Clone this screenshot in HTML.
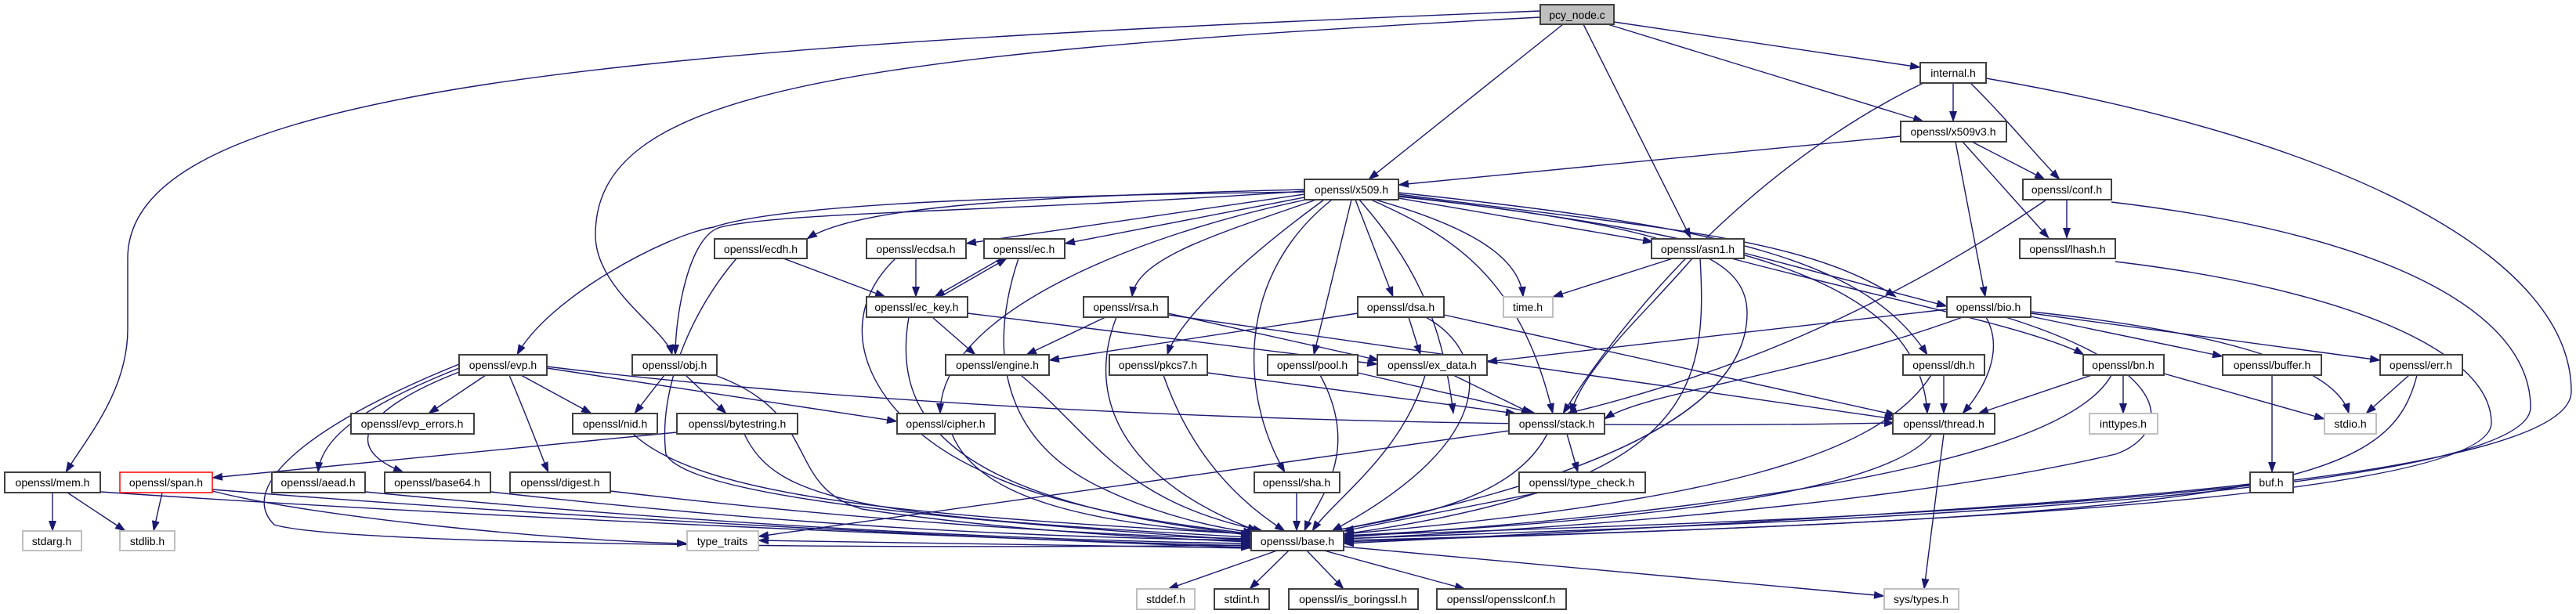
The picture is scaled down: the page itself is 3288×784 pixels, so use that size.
<!DOCTYPE html>
<html><head><meta charset="utf-8"><style>
html,body{margin:0;padding:0;background:#fff;}
svg{display:block;}
text{font-family:"Liberation Sans","DejaVu Sans",sans-serif;font-size:14px;fill:#000;}
.n rect{fill:#fff;stroke:#404040;stroke-width:2;}
.g rect{fill:#fff;stroke:#bfbfbf;stroke-width:2;}
.r rect{fill:#fff;stroke:#ff0000;stroke-width:1.5;}
.e path{fill:none;stroke:#191970;stroke-width:1.4;marker-end:url(#a);}
</style></head><body>
<svg width="3288" height="784" viewBox="0 0 3288 784" xmlns="http://www.w3.org/2000/svg">
<defs><marker id="a" markerWidth="14" markerHeight="10" refX="13" refY="5" orient="auto" markerUnits="userSpaceOnUse"><path d="M0,0L14,5L0,10z" fill="#191970"/></marker></defs>
<g class="e">
<!-- pcy_node.c -->
<path d="M1966,14 C800,60 163,110 163,330 L163,420 C163,500 110,560 84,603"/>
<path d="M1966,22 C1050,70 760,120 760,300 C760,370 850,420 858,453"/>
<path d="M1995,31 L1747,229"/>
<path d="M2021,31 L2158,304"/>
<path d="M2060,28 L2451,86"/>
<path d="M2052,31 L2455,155"/>
<!-- internal.h -->
<path d="M2493,106 L2493,155"/>
<path d="M2515,106 C2560,150 2600,200 2629,229"/>
<path d="M2455,106 C2300,180 2120,330 1995,528"/>
<path d="M2535,100 C3000,180 3282,330 3282,500 C3282,650 2000,672 1715,684"/>
<!-- x509v3.h -->
<path d="M2426,174 L1785,236"/>
<path d="M2517,181 L2610,229"/>
<path d="M2505,181 L2615,304"/>
<path d="M2496,181 L2534,379"/>
<!-- conf.h -->
<path d="M2638,255 L2638,304"/>
<path d="M2612,255 C2400,400 2200,480 2000,528"/>
<path d="M2695,258 C3050,300 3230,400 3230,520 C3230,650 2000,676 1715,688"/>
<!-- lhash.h -->
<path d="M2700,334 C3000,370 3180,450 3180,540 C3180,660 2000,680 1715,692"/>
<!-- x509.h -->
<path d="M1665,245 C1300,250 1000,260 911,290 C850,300 700,380 660,453"/>
<path d="M1665,242 C1350,250 1100,260 1030,305"/>
<path d="M1665,248 L1233,311"/>
<path d="M1665,252 L1359,311"/>
<path d="M1665,244 C1300,270 1000,270 920,290 C880,300 862,400 862,453"/>
<path d="M1667,255 C1450,300 1200,400 1200,528"/>
<path d="M1680,255 C1550,300 1450,330 1445,379"/>
<path d="M1690,255 C1560,350 1500,420 1490,453"/>
<path d="M1725,255 L1677,453"/>
<path d="M1700,255 C1580,350 1580,500 1640,603"/>
<path d="M1730,255 L1778,379"/>
<path d="M1735,255 C1800,330 1840,400 1855,528"/>
<path d="M1750,255 C1850,300 1940,350 1982,528"/>
<path d="M1755,255 C1880,290 1940,330 1944,379"/>
<path d="M1785,253 L2110,309"/>
<path d="M1785,248 C2100,290 2300,300 2420,379"/>
<path d="M1785,246 C2200,290 2380,330 2460,453"/>
<path d="M1785,250 C2200,300 2450,350 2460,528"/>
<path d="M1785,251 C2150,290 2230,330 2230,400 C2230,560 1900,640 1700,678"/>
<!-- ecdh/ecdsa/ec -->
<path d="M1000,330 L1130,379"/>
<path d="M940,330 C880,400 840,500 850,580 C880,640 1300,670 1597,690"/>
<path d="M1169,330 L1169,379"/>
<path d="M1143,330 C1050,420 1120,540 1250,600 C1350,650 1500,670 1600,682"/>
<path d="M1278,330 L1193,379"/>
<path d="M1300,330 C1260,450 1280,560 1400,620 C1480,660 1560,675 1600,680"/>
<path d="M1200,379 L1285,330"/>
<!-- ec_key -->
<path d="M1190,405 L1245,453"/>
<path d="M1235,400 L1758,465"/>
<path d="M1160,405 C1140,520 1200,600 1400,650 C1480,670 1560,678 1597,684"/>
<!-- rsa -->
<path d="M1411,405 L1310,453"/>
<path d="M1491,400 L1760,460"/>
<path d="M1491,402 L2418,535"/>
<path d="M1425,405 C1380,520 1450,620 1605,678"/>
<!-- dsa -->
<path d="M1733,400 L1339,460"/>
<path d="M1798,405 L1813,453"/>
<path d="M1843,402 L2420,530"/>
<path d="M1820,405 C1900,450 1920,560 1700,678"/>
<!-- time -->
<!-- asn1 -->
<path d="M2135,330 L1982,379"/>
<path d="M2160,330 C2100,400 2020,470 2005,528"/>
<path d="M2226,323 L2485,391"/>
<path d="M2210,330 C2400,380 2600,420 2660,453"/>
<path d="M2170,330 C2180,500 2160,620 1715,682"/>
<!-- bio -->
<path d="M2485,395 L1898,462"/>
<path d="M2505,405 C2300,480 2100,500 2048,535"/>
<path d="M2535,405 C2560,450 2530,500 2505,528"/>
<path d="M2592,404 L2837,455"/>
<path d="M2592,400 L3038,460"/>
<path d="M2592,398 C2800,420 2980,460 2998,528"/>
<path d="M2560,405 C2800,480 2760,560 2700,580 C2400,650 1900,680 1715,688"/>
<!-- evp -->
<path d="M620,479 L547,528"/>
<path d="M665,479 L755,528"/>
<path d="M586,470 C460,520 410,560 406,603"/>
<path d="M586,475 C470,520 430,570 515,603"/>
<path d="M650,479 C680,550 690,580 700,603"/>
<path d="M698,470 L1145,538"/>
<path d="M698,468 C1200,530 1900,550 2418,540"/>
<path d="M586,465 C400,540 300,620 350,670 C450,700 1300,700 1597,696"/>
<!-- obj -->
<path d="M848,479 L810,528"/>
<path d="M875,479 L927,528"/>
<path d="M915,480 C1050,530 1000,620 1100,650 C1300,680 1500,688 1597,692"/>
<!-- bytestring -->
<path d="M864,552 L271,610"/>
<path d="M950,554 C990,640 1100,660 1597,686"/>
<!-- nid -->
<path d="M808,554 C900,640 1200,660 1597,682"/>
<!-- mem, span, etc -->
<path d="M67,629 L67,678"/>
<path d="M86,629 L160,678"/>
<path d="M128,628 C600,660 1300,690 1597,697"/>
<path d="M207,629 L196,678"/>
<path d="M271,627 C400,660 700,690 877,694"/>
<path d="M271,625 C700,660 1300,690 1597,699"/>
<path d="M466,628 C900,670 1300,690 1597,694"/>
<path d="M626,628 C1000,670 1300,686 1597,690"/>
<path d="M779,627 C1100,665 1400,684 1597,688"/>
<!-- cipher, engine, pkcs7, pool, ex_data, sha -->
<path d="M1215,554 C1250,640 1400,670 1597,682"/>
<path d="M1303,479 C1400,560 1430,640 1612,678"/>
<path d="M1485,479 C1520,580 1580,640 1640,678"/>
<path d="M1541,476 L1935,528"/>
<path d="M1685,479 C1740,580 1680,640 1665,678"/>
<path d="M1733,476 L1960,528"/>
<path d="M1819,479 C1790,580 1700,640 1675,678"/>
<path d="M1855,479 L1955,528"/>
<path d="M1655,629 L1655,678"/>
<!-- stack -->
<path d="M1926,550 L968,685"/>
<path d="M1975,554 C1930,640 1800,660 1700,678"/>
<path d="M2000,554 L2014,603"/>
<path d="M1965,629 L1715,678"/>
<!-- dh, bn, thread, buffer, err, buf -->
<path d="M2481,479 L2481,528"/>
<path d="M2465,479 C2400,580 2200,640 1715,682"/>
<path d="M2670,479 L2525,528"/>
<path d="M2710,479 L2710,528"/>
<path d="M2762,477 L2967,535"/>
<path d="M2695,479 C2650,560 2400,640 1715,686"/>
<path d="M2900,479 L2900,603"/>
<path d="M3075,479 L3020,528"/>
<path d="M3085,479 C3050,620 2900,660 1715,690"/>
<path d="M2872,618 C2600,650 2000,680 1715,694"/>
<path d="M2466,554 C2400,640 2000,670 1715,684"/>
<path d="M2481,554 L2456,752"/>
<!-- base -->
<path d="M1630,703 L1491,752"/>
<path d="M1645,703 L1595,752"/>
<path d="M1668,703 L1715,752"/>
<path d="M1690,703 L1870,752"/>
<path d="M1715,698 L2405,761"/>
<path d="M1597,700 L968,690"/>
</g>
<g class="n">
<rect x="1966" y="6" width="94" height="25" style="fill:#bfbfbf"/><text x="2013" y="24" text-anchor="middle">pcy_node.c</text>
</g>
<g class="n">
<rect x="2451" y="80" width="84" height="26"/><text x="2493" y="98" text-anchor="middle">internal.h</text>
<rect x="2426" y="155" width="135" height="26"/><text x="2493" y="173" text-anchor="middle">openssl/x509v3.h</text>
<rect x="1665" y="229" width="120" height="26"/><text x="1725" y="247" text-anchor="middle">openssl/x509.h</text>
<rect x="2582" y="229" width="113" height="26"/><text x="2638" y="247" text-anchor="middle">openssl/conf.h</text>
<rect x="912" y="305" width="118" height="25"/><text x="971" y="323" text-anchor="middle">openssl/ecdh.h</text>
<rect x="1106" y="305" width="127" height="25"/><text x="1169" y="323" text-anchor="middle">openssl/ecdsa.h</text>
<rect x="1256" y="305" width="103" height="25"/><text x="1307" y="323" text-anchor="middle">openssl/ec.h</text>
<rect x="2108" y="305" width="118" height="25"/><text x="2167" y="323" text-anchor="middle">openssl/asn1.h</text>
<rect x="2578" y="305" width="122" height="25"/><text x="2639" y="323" text-anchor="middle">openssl/lhash.h</text>
<rect x="1106" y="379" width="129" height="26"/><text x="1170" y="397" text-anchor="middle">openssl/ec_key.h</text>
<rect x="1383" y="379" width="108" height="26"/><text x="1437" y="397" text-anchor="middle">openssl/rsa.h</text>
<rect x="1733" y="379" width="110" height="26"/><text x="1788" y="397" text-anchor="middle">openssl/dsa.h</text>
<rect x="2485" y="379" width="107" height="26"/><text x="2538" y="397" text-anchor="middle">openssl/bio.h</text>
<rect x="586" y="453" width="112" height="26"/><text x="642" y="471" text-anchor="middle">openssl/evp.h</text>
<rect x="807" y="453" width="108" height="26"/><text x="861" y="471" text-anchor="middle">openssl/obj.h</text>
<rect x="1207" y="453" width="132" height="26"/><text x="1273" y="471" text-anchor="middle">openssl/engine.h</text>
<rect x="1416" y="453" width="125" height="26"/><text x="1478" y="471" text-anchor="middle">openssl/pkcs7.h</text>
<rect x="1618" y="453" width="115" height="26"/><text x="1675" y="471" text-anchor="middle">openssl/pool.h</text>
<rect x="1758" y="453" width="140" height="26"/><text x="1828" y="471" text-anchor="middle">openssl/ex_data.h</text>
<rect x="2429" y="453" width="104" height="26"/><text x="2481" y="471" text-anchor="middle">openssl/dh.h</text>
<rect x="2659" y="453" width="103" height="26"/><text x="2710" y="471" text-anchor="middle">openssl/bn.h</text>
<rect x="2837" y="453" width="126" height="26"/><text x="2900" y="471" text-anchor="middle">openssl/buffer.h</text>
<rect x="3038" y="453" width="105" height="26"/><text x="3090" y="471" text-anchor="middle">openssl/err.h</text>
<rect x="448" y="528" width="157" height="26"/><text x="526" y="546" text-anchor="middle">openssl/evp_errors.h</text>
<rect x="731" y="528" width="108" height="26"/><text x="785" y="546" text-anchor="middle">openssl/nid.h</text>
<rect x="864" y="528" width="154" height="26"/><text x="941" y="546" text-anchor="middle">openssl/bytestring.h</text>
<rect x="1145" y="528" width="125" height="26"/><text x="1207" y="546" text-anchor="middle">openssl/cipher.h</text>
<rect x="1926" y="528" width="122" height="26"/><text x="1987" y="546" text-anchor="middle">openssl/stack.h</text>
<rect x="2416" y="528" width="130" height="26"/><text x="2481" y="546" text-anchor="middle">openssl/thread.h</text>
<rect x="6" y="603" width="122" height="26"/><text x="67" y="621" text-anchor="middle">openssl/mem.h</text>
<rect x="347" y="603" width="119" height="26"/><text x="406" y="621" text-anchor="middle">openssl/aead.h</text>
<rect x="491" y="603" width="135" height="26"/><text x="558" y="621" text-anchor="middle">openssl/base64.h</text>
<rect x="651" y="603" width="128" height="26"/><text x="715" y="621" text-anchor="middle">openssl/digest.h</text>
<rect x="1601" y="603" width="109" height="26"/><text x="1655" y="621" text-anchor="middle">openssl/sha.h</text>
<rect x="1939" y="603" width="161" height="26"/><text x="2019" y="621" text-anchor="middle">openssl/type_check.h</text>
<rect x="2872" y="603" width="55" height="26"/><text x="2899" y="621" text-anchor="middle">buf.h</text>
<rect x="1597" y="678" width="118" height="25"/><text x="1656" y="696" text-anchor="middle">openssl/base.h</text>
<rect x="1550" y="752" width="70" height="26"/><text x="1585" y="770" text-anchor="middle">stdint.h</text>
<rect x="1645" y="752" width="165" height="26"/><text x="1727" y="770" text-anchor="middle">openssl/is_boringssl.h</text>
<rect x="1834" y="752" width="165" height="26"/><text x="1916" y="770" text-anchor="middle">openssl/opensslconf.h</text>
</g>
<g class="r">
<rect x="153" y="603" width="118" height="26"/><text x="212" y="621" text-anchor="middle">openssl/span.h</text>
</g>
<g class="g">
<rect x="1919" y="379" width="63" height="26"/><text x="1950" y="397" text-anchor="middle">time.h</text>
<rect x="2667" y="528" width="87" height="26"/><text x="2710" y="546" text-anchor="middle">inttypes.h</text>
<rect x="2967" y="528" width="66" height="26"/><text x="3000" y="546" text-anchor="middle">stdio.h</text>
<rect x="29" y="678" width="75" height="25"/><text x="66" y="696" text-anchor="middle">stdarg.h</text>
<rect x="153" y="678" width="70" height="25"/><text x="188" y="696" text-anchor="middle">stdlib.h</text>
<rect x="877" y="678" width="91" height="25"/><text x="922" y="696" text-anchor="middle">type_traits</text>
<rect x="1451" y="752" width="74" height="26"/><text x="1488" y="770" text-anchor="middle">stddef.h</text>
<rect x="2405" y="752" width="95" height="26"/><text x="2452" y="770" text-anchor="middle">sys/types.h</text>
</g>
</svg>
</body></html>
